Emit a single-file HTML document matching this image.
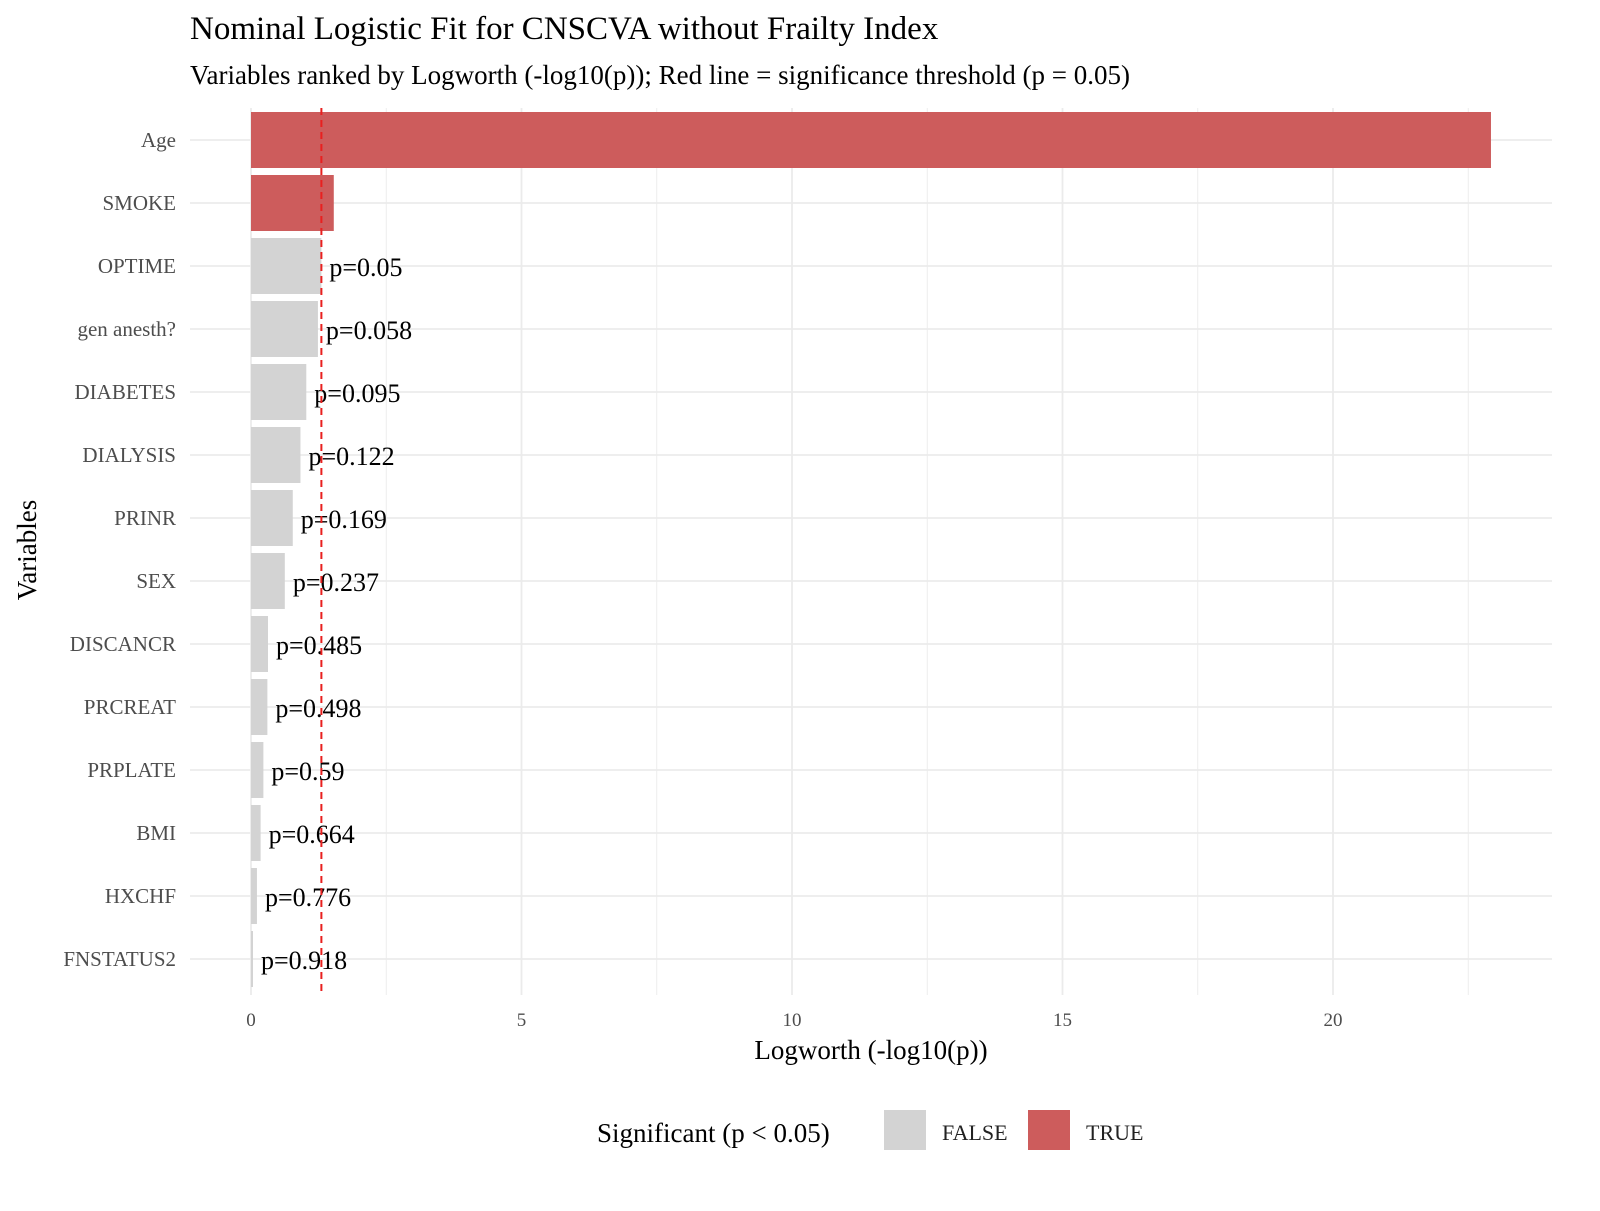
<!DOCTYPE html>
<html><head><meta charset="utf-8"><style>
body{margin:0;background:#fff;}
svg text{font-family:"Liberation Serif",serif;}
</style></head><body>
<svg id="chart" width="1600" height="1206" xmlns="http://www.w3.org/2000/svg">
<text x="190" y="39" font-size="33" fill="#000">Nominal Logistic Fit for CNSCVA without Frailty Index</text>
<text x="190" y="84" font-size="27" fill="#000">Variables ranked by Logworth (-log10(p)); Red line = significance threshold (p = 0.05)</text>
<g id="grid"></g><g id="bars"></g><g id="labels"></g><g id="axes"></g>
<text x="871" y="1059" font-size="27" text-anchor="middle">Logworth (-log10(p))</text>
<text transform="translate(36,550) rotate(-90)" font-size="27" text-anchor="middle">Variables</text>
<g>
<text x="597" y="1142" font-size="27">Significant (p &lt; 0.05)</text>
<rect x="884" y="1110" width="42" height="40" fill="#d3d3d3"/>
<text x="942" y="1140" font-size="22" fill="#222">FALSE</text>
<rect x="1028" y="1110" width="42" height="40" fill="#cd5c5c"/>
<text x="1086" y="1140" font-size="22" fill="#222">TRUE</text>
</g>
</svg>
<script>
const categories=["Age","SMOKE","OPTIME","gen anesth?","DIABETES","DIALYSIS","PRINR","SEX","DISCANCR","PRCREAT","PRPLATE","BMI","HXCHF","FNSTATUS2"];
const logworth=[22.92,1.53,1.301,1.237,1.022,0.914,0.772,0.625,0.314,0.303,0.229,0.178,0.110,0.037];
const pLabels=["","","p=0.05","p=0.058","p=0.095","p=0.122","p=0.169","p=0.237","p=0.485","p=0.498","p=0.59","p=0.664","p=0.776","p=0.918"];
const significant=[true,true,false,false,false,false,false,false,false,false,false,false,false,false];
const xTicks=[0,5,10,15,20];
const threshold=1.301;
const NS="http://www.w3.org/2000/svg";
const x=v=>251+v*54.1;
const y=i=>140+i*63;
function mk(t,a,p){const e=document.createElementNS(NS,t);for(const k in a)e.setAttribute(k,a[k]);p.appendChild(e);return e;}
const grid=document.getElementById('grid'),bars=document.getElementById('bars'),labels=document.getElementById('labels'),axes=document.getElementById('axes');
for(let v=-2.5;v<=25;v+=2.5){if(x(v)<190||x(v)>1552)continue;const l=mk('line',{x1:x(v),x2:x(v),y1:108,y2:995,stroke:'#ebebeb','stroke-width':v%5===0?1.8:0.9},grid);

}
categories.forEach((c,i)=>{const l=mk('line',{x1:190,x2:1552,y1:y(i),y2:y(i),stroke:'#ebebeb','stroke-width':1.8},grid);


const r=mk('rect',{x:x(0),y:y(i)-28,width:x(logworth[i])-x(0),height:56,fill:significant[i]?'#cd5c5c':'#d3d3d3'},bars);


const t=mk('text',{x:176,y:y(i)+7,'font-size':21,fill:'#4d4d4d','text-anchor':'end'},axes);t.textContent=c;


if(pLabels[i]){const p=mk('text',{x:x(logworth[i])+8,y:y(i)+10,'font-size':26,fill:'#000'},labels);p.textContent=pLabels[i];

}
});
xTicks.forEach(v=>{const t=mk('text',{x:x(v),y:1026,'font-size':19,fill:'#4d4d4d','text-anchor':'middle'},axes);t.textContent=v;

});
const th=mk('line',{x1:x(threshold),x2:x(threshold),y1:108,y2:995,stroke:'#e8201f','stroke-width':2,'stroke-dasharray':'7,5'},labels);


</script>
</body></html>
